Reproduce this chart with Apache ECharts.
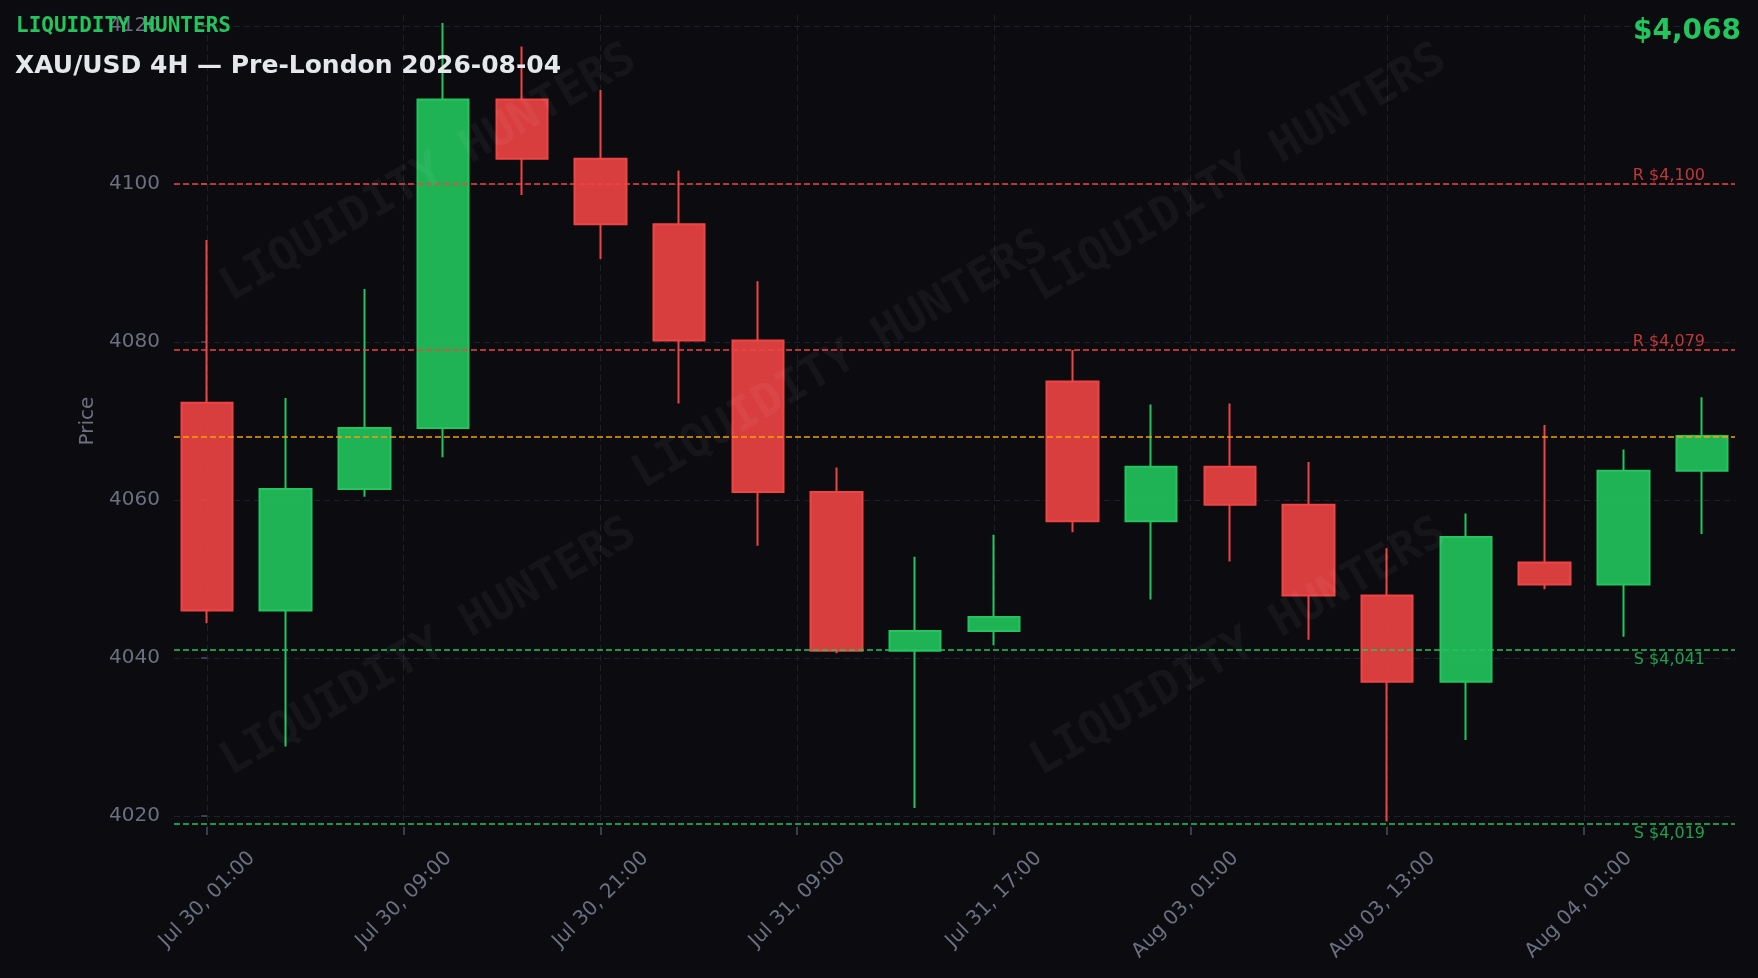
<!DOCTYPE html>
<html>
<head>
<meta charset="utf-8">
<script src="https://cdn.jsdelivr.net/npm/echarts@6/dist/echarts.min.js"></script>
<style>
html,body{margin:0;padding:0;background:#0b0b10;overflow:hidden;}
#chart{width:1758px;height:978px;}
</style>
</head>
<body>
<div id="chart"></div>
<script>
// ---- data ----
const candleIndex = [0,1,2,3,4,5,6,7,8,9,10,11,12,13,14,15,16,17,18,19];
const opens  = [4072.3,4046.0,4061.4,4069.1,4110.7,4103.2,4094.9,4080.2,4061.0,4040.9,4043.4,4075.0,4057.3,4064.2,4059.4,4047.9,4037.0,4052.1,4049.3,4063.7];
const closes = [4046.0,4061.4,4069.1,4110.7,4103.2,4094.9,4080.2,4061.0,4040.9,4043.4,4045.2,4057.3,4064.2,4059.4,4047.9,4037.0,4055.3,4049.3,4063.7,4068.1];
const lows   = [4044.4,4028.8,4060.4,4065.4,4098.6,4090.5,4072.2,4054.2,4040.6,4021.0,4041.6,4055.9,4047.4,4052.2,4042.3,4019.3,4029.6,4048.7,4042.7,4055.7];
const highs  = [4092.9,4072.9,4086.7,4120.4,4117.4,4111.9,4101.7,4087.7,4064.1,4052.8,4055.6,4079.0,4072.1,4072.2,4064.8,4053.9,4058.3,4069.5,4066.4,4073.0];

const xTickAt     = [0,2.5,5,7.5,10,12.5,15,17.5];
const xTickLabels = ['Jul 30, 01:00','Jul 30, 09:00','Jul 30, 21:00','Jul 31, 09:00','Jul 31, 17:00','Aug 03, 01:00','Aug 03, 13:00','Aug 04, 01:00'];
const yTicks      = [4020,4040,4060,4080,4100,4120];

const resistance = [4100, 4079];
const support    = [4041, 4019];
const current    = 4068;

const brand = 'LIQUIDITY HUNTERS';
const title = 'XAU/USD 4H \u2014 Pre-London 2026-08-04';

// ---- styling ----
const UP = '#22c55e', DOWN = '#ef4444';
const fmt = v => '$' + v.toLocaleString('en-US');
const labelShift = 0.57;   // plotly-like offset of angled tick labels (axis units)

const candleData = candleIndex.map(i => [i, opens[i], closes[i], lows[i], highs[i]]);

const markLines = [];
resistance.forEach(v => markLines.push({
  yAxis: v,
  lineStyle: {color: DOWN, type: [6,3], width: 1.5},
  label: {show: true, formatter: 'R ' + fmt(v), position: 'insideEndTop', distance: [30, 0],
          color: 'rgba(239,68,68,0.8)', fontSize: 16, fontFamily: 'DejaVu Sans'}
}));
support.forEach(v => markLines.push({
  yAxis: v,
  lineStyle: {color: UP, type: [6,3], width: 1.5},
  label: {show: true, formatter: 'S ' + fmt(v), position: 'insideEndBottom', distance: [30, 2],
          color: 'rgba(34,197,94,0.8)', fontSize: 16, fontFamily: 'DejaVu Sans'}
}));
markLines.push({
  yAxis: current,
  lineStyle: {color: '#f59e0b', type: [6,3], width: 1.5},
  label: {show: false}
});

const wmPositions = [[429,174],[841,361],[1239,174],[429,648],[1239,648]];
const graphics = wmPositions.map(p => ({
  type: 'text', x: p[0], y: p[1], rotation: Math.PI / 6, z: 100, silent: true,
  style: {text: brand, fill: 'rgba(255,255,255,0.045)', font: 'bold 46px "DejaVu Sans Mono"',
          align: 'center', verticalAlign: 'middle'}
}));
graphics.push(
  {type: 'text', x: 16, y: 27, z: 110,
   style: {text: brand, fill: UP, font: 'bold 21px "DejaVu Sans Mono"', align: 'left', verticalAlign: 'middle'}},
  {type: 'text', x: 15, y: 66, z: 110,
   style: {text: title, fill: '#e5e7eb', font: 'bold 25px "DejaVu Sans"', align: 'left', verticalAlign: 'middle'}},
  {type: 'text', x: 1741, y: 32, z: 110,
   style: {text: fmt(current), fill: UP, font: 'bold 28px "DejaVu Sans"', align: 'right', verticalAlign: 'middle'}}
);

const chart = echarts.init(document.getElementById('chart'), null, {renderer: 'canvas'});
chart.setOption({
  animation: false,
  backgroundColor: '#0b0b10',
  textStyle: {fontFamily: 'DejaVu Sans'},
  grid: {left: 174, right: 23, top: 15, bottom: 151, containLabel: false, outerBoundsMode: 'none'},
  xAxis: {
    type: 'value', min: -0.42, max: 19.42,
    axisLine: {show: false},
    axisTick: {show: true, length: 8, lineStyle: {color: '#4b5060', width: 1.5}, customValues: xTickAt},
    splitLine: {show: true, lineStyle: {color: '#1e1f27', type: [6,4], width: 1}},
    axisLabel: {
      customValues: xTickAt.map(v => v + labelShift),
      rotate: 45, margin: 28, color: '#6b7080', fontSize: 20, fontFamily: 'DejaVu Sans',
      formatter: v => {
        const i = xTickAt.findIndex(t => Math.abs(t + labelShift - v) < 0.01);
        return i >= 0 ? xTickLabels[i] : '';
      }
    }
  },
  yAxis: {
    type: 'value', min: 4018.6, max: 4121.4,
    name: 'Price', nameLocation: 'middle', nameGap: 73,
    nameTextStyle: {color: '#6b7080', fontSize: 20, fontFamily: 'DejaVu Sans'},
    axisLine: {show: false},
    axisTick: {show: true, length: 6, lineStyle: {color: '#4b5060', width: 1.5}, customValues: yTicks},
    splitLine: {show: true, lineStyle: {color: '#1e1f27', type: [6,4], width: 1}},
    axisLabel: {customValues: yTicks, margin: 14, color: '#6b7080', fontSize: 20, fontFamily: 'DejaVu Sans',
                formatter: v => String(v)}
  },
  graphic: graphics,
  series: [{
    type: 'candlestick',
    data: candleData,
    encode: {x: 0, y: [1, 2, 3, 4]},
    barWidth: 52,
    itemStyle: {
      color: 'rgba(34,197,94,0.9)', color0: 'rgba(239,68,68,0.9)',
      borderColor: UP, borderColor0: DOWN, borderWidth: 2
    },
    markLine: {symbol: 'none', silent: true, animation: false, data: markLines}
  }]
});
</script>
</body>
</html>
